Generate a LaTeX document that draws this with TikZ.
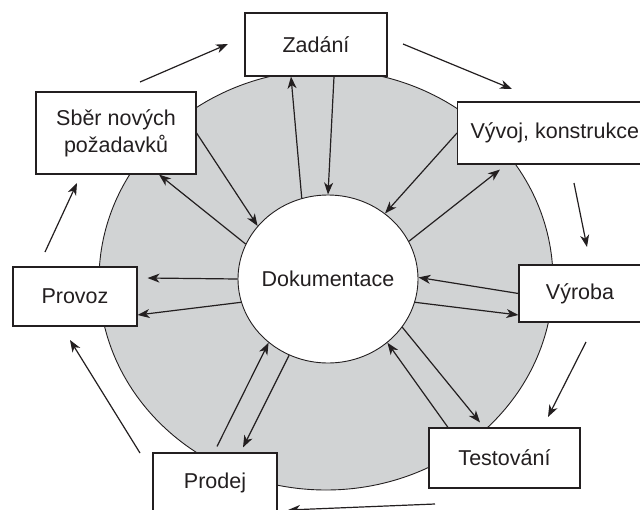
\documentclass[tikz,border=0pt]{standalone}
\usepackage{fontspec}
\setmainfont{Liberation Sans}
\usetikzlibrary{shapes.geometric,arrows.meta}
\definecolor{disc}{RGB}{209,211,212}
\definecolor{ink}{RGB}{35,31,32}
\begin{document}
\begin{tikzpicture}[x=1pt,y=-1pt,
  box/.style={draw=ink,fill=white,line width=1.1pt,inner sep=0pt,
    font=\fontsize{21.5}{27}\selectfont,text=ink,align=center},
  arr/.style={draw=ink,line width=1.2pt,-{Stealth[length=12pt,width=9pt,inset=3.5pt]}}]
\useasboundingbox (0,0) rectangle (640,509);
% gray disc
\fill[disc,draw=ink,line width=0.9pt] (326,280) ellipse [x radius=227, y radius=210];
% central document ellipse
\node[ellipse,draw=ink,fill=white,line width=0.9pt,inner sep=0pt,
  minimum width=180pt,minimum height=168pt,
  font=\fontsize{21.5}{27}\selectfont,text=ink] (dok) at (328,279) {\makebox[0pt]{Dokumentace}};
% boxes
\node[box,minimum width=142pt,minimum height=63pt] (zad) at (316,44.5) {Zadání};
\node[box,minimum width=160pt,minimum height=82pt] (sber) at (116,133) {Sběr nových\\požadavků};
\node[box,anchor=west,inner xsep=13pt,minimum height=62pt] (vyv) at (457,133) {Vývoj, konstrukce};
\node[box,minimum width=122pt,minimum height=57pt] (vyr) at (580,293.5) {Výroba};
\node[box,minimum width=151pt,minimum height=60pt] (test) at (504.5,458) {Testování};
\node[box,minimum width=124pt,minimum height=60pt] (prod) at (215,483) {Prodej};
\node[box,minimum width=124pt,minimum height=59pt] (prov) at (75,296.5) {Provoz};
% inner arrows
\draw[arr] (sber.east) -- (dok.143);
\draw[arr] (dok.157) -- ([xshift=43pt]sber.south);
\draw[arr] (dok.108) -- ([xshift=-25pt]zad.south);
\draw[arr] ([xshift=18pt]zad.south) -- (dok.90);
\draw[arr] (vyv.west) -- (dok.49);
\draw[arr] (dok.25) -- ([xshift=43pt,yshift=-5pt]vyv.south west);
\draw[arr] (vyr.west) -- (dok.1);
\draw[arr] (dok.-15) -- ([yshift=-21.5pt]vyr.west);
\draw[arr] (dok.-33) -- ([xshift=-24.5pt,yshift=5pt]test.north);
\draw[arr] ([xshift=-56.5pt]test.north) -- (dok.-47);
\draw[arr] ([xshift=2pt,yshift=6pt]prod.north) -- (dok.227);
\draw[arr] (dok.243) -- ([xshift=28pt,yshift=5pt]prod.north);
\draw[arr] (dok.180) -- ([xshift=10pt,yshift=18.5pt]prov.east);
\draw[arr] (dok.195) -- ([yshift=-18.5pt]prov.east);
% outer cycle arrows
\coordinate (c1a) at (140,82);  \coordinate (c1b) at (228,44);
\coordinate (c2a) at (403,44);  \coordinate (c2b) at (512,89);
\coordinate (c3a) at (574,183); \coordinate (c3b) at (587,247);
\coordinate (c4a) at (586,342); \coordinate (c4b) at (548,417);
\coordinate (c5a) at (435,504); \coordinate (c5b) at (288,510);
\coordinate (c6a) at (140,453); \coordinate (c6b) at (70,340);
\coordinate (c7a) at (45,252);  \coordinate (c7b) at (77,183);
\draw[arr] (c1a) -- (c1b);
\draw[arr] (c2a) -- (c2b);
\draw[arr] (c3a) -- (c3b);
\draw[arr] (c4a) -- (c4b);
\draw[arr] (c5a) -- (c5b);
\draw[arr] (c6a) -- (c6b);
\draw[arr] (c7a) -- (c7b);
\end{tikzpicture}
\end{document}
